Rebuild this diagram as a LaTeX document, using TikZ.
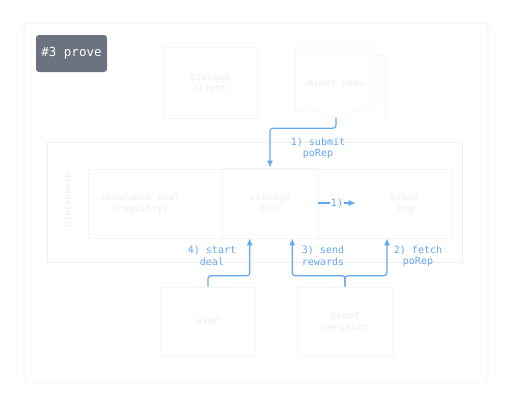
\documentclass[tikz,border=0pt]{standalone}
\usepackage{fontspec}
\setmonofont{DejaVu Sans Mono}
\usetikzlibrary{arrows.meta}
\definecolor{flow}{RGB}{100,168,245}
\definecolor{faint}{RGB}{238,240,245}
\definecolor{ghost}{RGB}{232,233,236}
\definecolor{ghosttext}{RGB}{236,237,240}
\definecolor{tagbg}{RGB}{107,114,128}
\tikzset{
  box/.style={draw=ghost!40, line width=0.6pt, minimum width=#1, align=center, font=\ttfamily\fontsize{9.5}{11}\selectfont, text=ghosttext},
  box/.default=95pt,
  flowarr/.style={draw=flow, line width=1.2pt, rounded corners=3pt, -{Latex[length=7pt,width=6pt]}},
  flowlbl/.style={text=flow, font=\ttfamily\fontsize{10}{11.5}\selectfont, align=center, inner sep=1pt}
}
\begin{document}
\begin{tikzpicture}[x=1pt,y=-1pt]
\useasboundingbox (0,0) rectangle (512,405);
\fill[white] (0,0) rectangle (512,405);
% outer frame
\draw[faint, line width=0.8pt, rounded corners=4pt] (24,23) rectangle (488,382);
% tag
\node[fill=tagbg, rounded corners=3pt, text=white, font=\ttfamily\fontsize{12.5}{14}\selectfont,
      minimum width=71pt, minimum height=37pt, inner sep=2pt] (tag) at (71.5,53.5) {\#3 prove};
% top nodes
\node[box=94pt, minimum height=71pt] (client) at (210,82.5) {storage\\client};
\draw[ghost!40, line width=0.6pt] (295,48) -- (376,48) -- (376,110)
   .. controls (355,100) and (350,124) .. (335,118) .. controls (320,112) and (310,106) .. (295,112) -- cycle;
\draw[ghost!30, line width=0.6pt] (376,55) -- (385,55) -- (385,118);
\node[draw=none, font=\ttfamily\fontsize{9.5}{11}\selectfont, text=ghosttext, minimum width=81pt, minimum height=70pt] (miner) at (336,83) {miner-node};
% blockchain
\draw[ghost!75, line width=0.7pt] (47,142) rectangle (462,262);
\node[rotate=90, text=ghosttext, font=\ttfamily\fontsize{9}{10}\selectfont] (chainlbl) at (67,200) {blockchain};
\draw[ghost!50, line width=0.6pt] (88,169) rectangle (452,238);
\node[box=95pt, minimum height=69pt, draw=none] (pool) at (140,203) {insurance pool\\(registry)};
\node[box=96pt, minimum height=70pt] (deal) at (270,203) {storage\\deal};
\node[box=94pt, minimum height=70pt, draw=none] (log) at (405,203) {proof\\log};
% bottom nodes
\node[box=95pt, minimum height=68pt] (user) at (208,321) {user};
\node[box=95pt, minimum height=68pt] (verifier) at (345,321) {proof\\verifier};
% connectors
\draw[flowarr] (miner.south) -- ++(0,10) -| (deal.north);
\node[flowlbl] (l1) at (318,148) {1) submit\\poRep};
\draw[flowarr, rounded corners=0pt] (deal.east) -- node[fill=white, flowlbl, inner sep=0.5pt] (l1b) {1)} ([xshift=-2pt]log.west);
\draw[flowarr] (user.north) -- ++(0,-11) -| ([xshift=28pt]deal.south west);
\node[flowlbl] (l4) at (212,256) {4) start\\deal};
\draw[flowarr] (verifier.north) -- ++(0,-11) -| ([xshift=-26pt]deal.south east);
\draw[flowarr] (verifier.north) -- ++(0,-11) -| ([xshift=-18pt]log.south);
\node[flowlbl] (l3) at (323,256) {3) send\\rewards};
\node[flowlbl] (l2) at (418,256) {2) fetch\\poRep};
\end{tikzpicture}
\end{document}
